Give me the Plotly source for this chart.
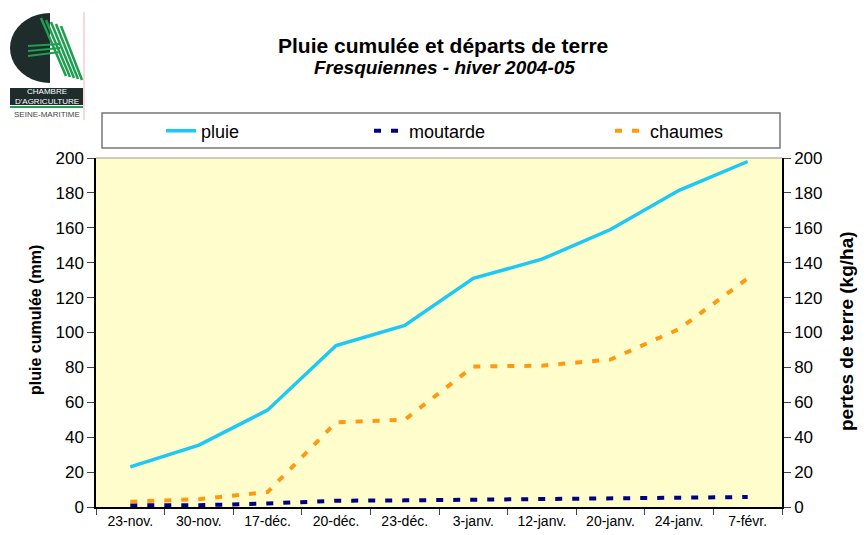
import math
import plotly.graph_objects as go

# data
dates = ["23-nov.", "30-nov.", "17-déc.", "20-déc.", "23-déc.",
         "3-janv.", "12-janv.", "20-janv.", "24-janv.", "7-févr."]
pluie = [23, 35.5, 55.5, 92.5, 104, 131, 142, 159, 181.5, 198]
moutarde = [1, 1, 2, 3.6, 3.8, 4.2, 4.2, 5, 5, 5.7]
chaumes = [3, 4.5, 8.5, 48.5, 50, 80.5, 81, 84.5, 102, 131]

# page has an 8px body margin, so the figure is 8px smaller and offset
OFF = 8
W, H = 867 - OFF, 535 - OFF
L, R, T, B = 96, 782, 158, 507  # plot area in reference pixels

def px(x, y):
    # reference pixel -> paper coords
    return (x - L) / (R - L), (B - y) / (B - T)

fig = go.Figure()
fig.add_trace(go.Scatter(x=dates, y=pluie, name="pluie", mode="lines",
                         line=dict(color="#1CC8F4", width=3.5), legend="legend"))
fig.add_trace(go.Scatter(x=dates, y=moutarde, name="moutarde", mode="lines", yaxis="y2",
                         line=dict(color="#000080", width=4, dash="7px,10px"), legend="legend2"))
fig.add_trace(go.Scatter(x=dates, y=chaumes, name="chaumes", mode="lines", yaxis="y2",
                         line=dict(color="#FF9910", width=4, dash="7px,10px"), legend="legend3"))

font = "Liberation Sans, Arial, sans-serif"
def leg(x_text):
    return dict(x=px(x_text - 41, 0)[0], y=px(0, 131)[1], xanchor="left", yanchor="middle",
                bgcolor="rgba(0,0,0,0)", font=dict(size=18))

fig.update_layout(
    width=W, height=H,
    margin=dict(l=L - OFF, r=W - (R - OFF), t=T - OFF, b=H - (B - OFF), autoexpand=False),
    paper_bgcolor="white", plot_bgcolor="#FFFDCC",
    font=dict(family=font, size=14, color="black"),
    showlegend=True,
    legend=leg(202), legend2=leg(410), legend3=leg(651),
    xaxis=dict(type="category", range=[-0.5, 9.5], tickson="boundaries", ticks="outside",
               ticklen=6, showline=True, linecolor="black", linewidth=1.5, showgrid=False,
               tickfont=dict(size=14), automargin=False),
    yaxis=dict(range=[0, 200], dtick=20, ticks="outside", ticklen=7,
               showline=True, linecolor="black", linewidth=1.5, showgrid=False,
               zeroline=False, tickfont=dict(size=17), automargin=False),
    yaxis2=dict(range=[0, 200], dtick=20, ticks="outside", ticklen=7, overlaying="y",
                side="right", showline=True, linecolor="black", linewidth=1.5,
                showgrid=False, zeroline=False, tickfont=dict(size=17), automargin=False),
)

def note(text, x, y, **kw):
    ax, ay = px(x, y)
    fig.add_annotation(text=text, x=ax, y=ay, xref="paper", yref="paper", showarrow=False,
                       xanchor="center", yanchor="middle", **kw)

# axis titles
note("<b>pluie cumulée (mm)</b>", 35, 320, textangle=-90, font=dict(size=16))
note("<b>pertes de terre (kg/ha)</b>", 846, 331, textangle=-90, font=dict(size=19))

# top border of plot area
fig.add_shape(type="line", xref="paper", yref="paper", x0=0, x1=1, y0=1, y1=1,
              line=dict(color="#999999", width=1))

# legend box
x0, y0 = px(102, 148)
x1, y1 = px(780, 113)
fig.add_shape(type="rect", xref="paper", yref="paper", x0=x0, y0=y0, x1=x1, y1=y1,
              line=dict(color="#777777", width=1.5), fillcolor="rgba(0,0,0,0)")

# titles
note("<b>Pluie cumulée et départs de terre</b>", 443, 45, font=dict(size=21))
note("<b><i>Fresquiennes - hiver 2004-05</i></b>", 444, 67, font=dict(size=19))

# logo (simplified)
def pth(points):
    s = ""
    for i, (a, b) in enumerate(points):
        xx, yy = px(a, b)
        s += ("M" if i == 0 else "L") + f"{xx},{yy} "
    return s

half = [(50 - 40 * math.sin(t * math.pi / 20), 48 - 35 * math.cos(t * math.pi / 20)) for t in range(21)]
fig.add_shape(type="path", xref="paper", yref="paper", path=pth(half) + "Z",
              fillcolor="#1E2D2B", line=dict(width=0))
for k in range(5):
    fig.add_shape(type="line", xref="paper", yref="paper",
                  x0=px(41 + k * 5, 0)[0], y0=px(0, 18 + k * 2)[1],
                  x1=px(66 + k * 4, 0)[0], y1=px(0, 76 + k * 1)[1],
                  line=dict(color="#1F9E50", width=2.5))
for k in range(3):
    fig.add_shape(type="line", xref="paper", yref="paper",
                  x0=px(28, 0)[0], y0=px(0, 46 + k * 5)[1],
                  x1=px(60, 0)[0], y1=px(0, 44 + k * 4)[1],
                  line=dict(color="#1F9E50", width=2))
fig.add_shape(type="line", xref="paper", yref="paper", x0=px(84, 0)[0], x1=px(84, 0)[0],
              y0=px(0, 12)[1], y1=px(0, 120)[1], line=dict(color="#F5B5B5", width=1))
bx0, by0 = px(10, 105)
bx1, by1 = px(83, 88)
fig.add_shape(type="rect", xref="paper", yref="paper", x0=bx0, y0=by0, x1=bx1, y1=by1,
              fillcolor="#1E2D2B", line=dict(width=0))
fig.add_shape(type="line", xref="paper", yref="paper", x0=bx0, x1=bx1,
              y0=px(0, 107)[1], y1=px(0, 107)[1], line=dict(color="#1F9E50", width=2))
for txt, yy, col in [("CHAMBRE", 92, "white"), ("D'AGRICULTURE", 101, "white"),
                     ("SEINE-MARITIME", 114, "#444444")]:
    note(txt, 47, yy, font=dict(size=8, color=col,
                                family="Liberation Sans Narrow, Arial Narrow, sans-serif"))

fig.write_html("out.html")
